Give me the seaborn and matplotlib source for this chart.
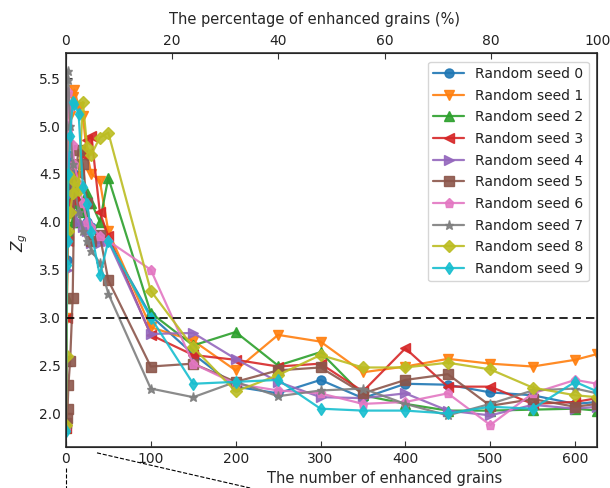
import numpy as np
import pandas as pd
import matplotlib
matplotlib.use("Agg")
import matplotlib.pyplot as plt
from matplotlib.lines import Line2D
import seaborn as sns

# ---- data ----
n_grains = [0, 1, 2, 3, 5, 8, 10, 15, 20, 25, 30, 40, 50,
            100, 150, 200, 250, 300, 350, 400, 450, 500, 550, 600, 626]
total_grains = 626
seeds = [f"Random seed {i}" for i in range(10)]

seed0 = [1.85, 3.6, 4.5, 4.7, 4.6, 4.4, 4.5, 4.2, 4.1, 4.0, 3.95, 3.85, 3.8,
         3.02, 2.62, 2.28, 2.21, 2.35, 2.16, 2.31, 2.30, 2.22, 2.19, 2.10, 2.12]
seed1 = [1.88, 3.0, 4.2, 4.8, 5.1, 5.3, 5.38, 5.2, 5.1, 4.7, 4.5, 4.43, 3.9,
         2.90, 2.76, 2.45, 2.82, 2.75, 2.43, 2.49, 2.57, 2.52, 2.49, 2.56, 2.62]
seed2 = [1.85, 3.2, 3.9, 4.1, 4.3, 4.0, 4.0, 4.2, 4.1, 4.3, 4.2, 4.0, 4.46,
         3.05, 2.71, 2.85, 2.50, 2.64, 2.19, 2.10, 2.03, 2.03, 2.04, 2.05, 2.03]
seed3 = [1.85, 3.0, 3.8, 4.2, 4.6, 4.3, 4.22, 4.5, 4.7, 4.85, 4.9, 4.1, 3.85,
         2.82, 2.61, 2.56, 2.49, 2.52, 2.23, 2.68, 2.28, 2.28, 2.10, 2.12, 2.16]
seed4 = [1.85, 3.5, 4.4, 4.7, 4.6, 4.3, 4.1, 4.0, 3.95, 3.9, 3.78, 3.78, 3.8,
         2.83, 2.84, 2.57, 2.33, 2.17, 2.16, 2.21, 2.03, 1.98, 2.09, 2.05, 2.07]
seed5 = [1.9, 1.95, 2.05, 2.3, 2.55, 3.2, 4.4, 4.75, 4.6, 4.2, 3.8, 3.86, 3.39,
         2.49, 2.52, 2.33, 2.45, 2.48, 2.21, 2.35, 2.41, 2.08, 2.15, 2.07, 2.10]
seed6 = [1.85, 3.8, 5.0, 5.35, 5.2, 4.8, 4.6, 4.4, 4.2, 4.0, 3.95, 3.85, 3.8,
         3.50, 2.52, 2.31, 2.24, 2.21, 2.10, 2.12, 2.21, 1.88, 2.21, 2.35, 2.31]
seed7 = [1.85, 5.0, 5.57, 5.48, 5.0, 4.6, 4.4, 4.1, 3.9, 3.8, 3.7, 3.57, 3.25,
         2.26, 2.17, 2.33, 2.18, 2.24, 2.26, 2.10, 1.98, 2.10, 2.24, 2.26, 2.21]
seed8 = [1.88, 2.6, 4.5, 3.9, 4.1, 4.3, 4.43, 4.33, 5.25, 4.78, 4.7, 4.88, 4.93,
         3.28, 2.69, 2.23, 2.40, 2.61, 2.48, 2.48, 2.53, 2.46, 2.27, 2.19, 2.17]
seed9 = [1.82, 3.55, 3.8, 4.5, 4.9, 5.25, 5.23, 5.13, 4.36, 4.19, 3.89, 3.44, 3.8,
         3.00, 2.31, 2.33, 2.35, 2.05, 2.03, 2.03, 2.00, 2.07, 2.05, 2.33, 2.23]
series = [seed0, seed1, seed2, seed3, seed4, seed5, seed6, seed7, seed8, seed9]

markers = ["o", "v", "^", "<", ">", "s", "p", "*", "D", "d"]
colors = sns.color_palette("tab10", 10)

sns.set_style("ticks", {"xtick.direction": "in", "ytick.direction": "in"})
plt.rcParams["font.family"] = ["DejaVu Sans"]

fig = plt.figure(figsize=(6.1, 4.88), dpi=100)
ax = fig.add_axes([0.108, 0.084, 0.871, 0.807])

for name, vals, m, c in zip(seeds, series, markers, colors):
    df = pd.DataFrame({"n": n_grains, "z": vals})
    sns.lineplot(data=df, x="n", y="z", ax=ax, color=c, marker=m,
                 markersize=6.5, markeredgecolor=c, markeredgewidth=1,
                 linewidth=1.6, alpha=0.9, label=name, legend=False)

ax.axhline(3.0, color="black", linestyle="--", linewidth=1.2, dashes=(5, 3))
ax.set_xlim(0, total_grains)
ax.set_ylim(1.65, 5.76)
ax.set_xticks([0, 100, 200, 300, 400, 500, 600])
ax.set_yticks([2.0, 2.5, 3.0, 3.5, 4.0, 4.5, 5.0, 5.5])
ax.set_yticklabels(["2.0", "2.5", "3.0", "3.5", "4.0", "4.5", "5.0", "5.5"])
ax.set_xlabel("The number of enhanced grains", fontsize=10.5)
ax.xaxis.set_label_coords(0.6, -0.062)
ax.set_ylabel("$Z_g$", fontsize=11)
ax.yaxis.set_label_coords(-0.068, 0.52)
ax.tick_params(labelsize=10, length=4, colors="#333333", labelcolor="#222222")
for s in ax.spines.values():
    s.set_visible(True)
    s.set_color("#333333")
    s.set_linewidth(1.2)

ax2 = ax.twiny()
ax2.set_xlim(0, 100)
ax2.set_xticks([0, 20, 40, 60, 80, 100])
ax2.set_xlabel("The percentage of enhanced grains (%)", fontsize=10.5)
ax2.xaxis.set_label_coords(0.468, 1.075)
ax2.tick_params(labelsize=10, length=4, direction="in", colors="#333333",
                labelcolor="#222222")

handles = [Line2D([0], [0], color=c, marker=m, markersize=6.5, markeredgecolor=c,
                  linewidth=1.6, alpha=0.9) for m, c in zip(markers, colors)]
leg = ax.legend(handles, seeds, loc="upper right", fontsize=10,
                frameon=True, fancybox=True, borderaxespad=0.6,
                handlelength=2.2, labelspacing=0.55)
leg.get_frame().set_edgecolor("#cccccc")
for t in leg.get_texts():
    t.set_color("#222222")

# zoom indicator lines towards an inset below
fig.add_artist(Line2D([0.108, 0.108], [0.041, 0.0], transform=fig.transFigure,
                      color="black", linestyle="--", linewidth=0.8))
fig.add_artist(Line2D([0.159, 0.41], [0.072, 0.0], transform=fig.transFigure,
                      color="black", linestyle="--", linewidth=0.8))

fig.savefig("out.png", dpi=100)
